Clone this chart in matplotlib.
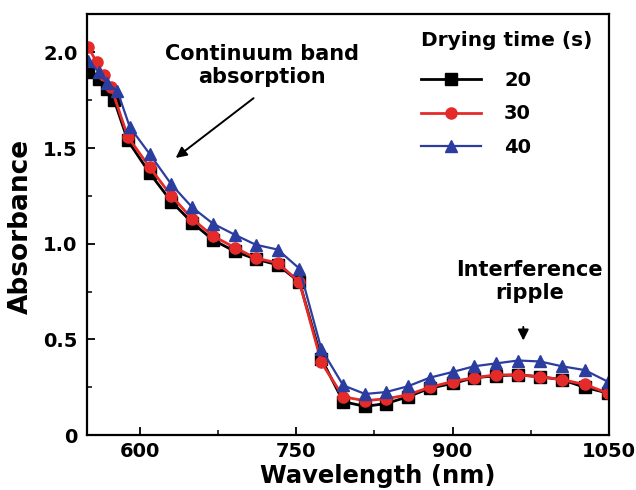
import matplotlib
matplotlib.use('Agg')
import matplotlib.pyplot as plt
from matplotlib.ticker import MultipleLocator, FixedLocator, FuncFormatter

plt.rcParams['font.family'] = ['DejaVu Sans']
plt.rcParams['font.weight'] = 'bold'

# comprimentos de onda (nm) e absorbancia
wl_20 = [550, 560, 568, 575, 588, 609, 630, 650, 670, 691, 711, 732, 753, 774,
         795, 816, 836, 857, 878, 900, 921, 942, 963, 984, 1005, 1027, 1049]
abs_20 = [1.90, 1.86, 1.81, 1.75, 1.54, 1.37, 1.22, 1.11, 1.02, 0.96, 0.92, 0.89, 0.80, 0.40,
          0.175, 0.15, 0.165, 0.20, 0.245, 0.27, 0.30, 0.31, 0.315, 0.305, 0.29, 0.25, 0.22]

wl_30 = [550, 558, 565, 572, 588, 609, 630, 650, 670, 691, 711, 732, 753, 774,
         795, 816, 836, 857, 878, 900, 921, 942, 963, 984, 1005, 1027, 1049]
abs_30 = [2.03, 1.95, 1.88, 1.82, 1.56, 1.40, 1.25, 1.13, 1.04, 0.98, 0.925, 0.90, 0.80, 0.38,
          0.20, 0.18, 0.19, 0.21, 0.25, 0.28, 0.30, 0.315, 0.315, 0.305, 0.29, 0.265, 0.22]

wl_40 = [550, 560, 568, 578, 590, 609, 630, 650, 670, 691, 711, 732, 753, 774,
         795, 816, 836, 857, 878, 900, 921, 942, 963, 984, 1005, 1027, 1049]
abs_40 = [1.955, 1.90, 1.84, 1.80, 1.61, 1.47, 1.31, 1.19, 1.105, 1.047, 0.995, 0.97, 0.87, 0.45,
          0.26, 0.215, 0.225, 0.255, 0.30, 0.33, 0.36, 0.375, 0.39, 0.385, 0.36, 0.34, 0.28]

series = [
    ('20', wl_20, abs_20, 'black', 's', 2.0),
    ('30', wl_30, abs_30, '#e52a2a', 'o', 2.0),
    ('40', wl_40, abs_40, '#2b3d9e', '^', 1.6),
]

fig = plt.figure(figsize=(6.36, 4.90), dpi=100)
ax = fig.add_axes([0.137, 0.112, 0.820, 0.859])

for nome, x, y, cor, mk, lw in series:
    ax.plot(x, y, color=cor, marker=mk, markersize=8, linewidth=lw, label=nome)

ax.set_xlim(549, 1050)
ax.set_ylim(0, 2.2)
ax.xaxis.set_major_locator(FixedLocator([600, 750, 900, 1050]))
ax.xaxis.set_minor_locator(FixedLocator([675, 825, 975]))
ax.yaxis.set_major_locator(MultipleLocator(0.5))
ax.yaxis.set_minor_locator(MultipleLocator(0.25))
ax.yaxis.set_major_formatter(FuncFormatter(lambda v, p: '0' if v == 0 else f'{v:.1f}'))
ax.tick_params(which='both', direction='in', top=False, right=False, labelsize=14)
ax.tick_params(axis='x', pad=5.3)
ax.tick_params(axis='y', pad=7)
ax.tick_params(which='major', length=6, width=1.3)
ax.tick_params(which='minor', length=3.5, width=1.1)
for s in ax.spines.values():
    s.set_linewidth(1.6)

ax.set_xlabel('Wavelength (nm)', fontsize=17.5, fontweight='bold', va='top')
ax.set_ylabel('Absorbance', fontsize=19, fontweight='bold')
ax.xaxis.set_label_coords(0.557, -0.068)
ax.yaxis.set_label_coords(-0.103, 0.495)

ax.text(717, 1.93, 'Continuum band\nabsorption', ha='center', va='center',
        fontsize=15, fontweight='bold', linespacing=1.2)
ax.annotate('', xy=(632, 1.44), xytext=(711, 1.77),
            arrowprops=dict(arrowstyle='-|>', color='black', lw=1.4, mutation_scale=16))

ax.text(974, 0.805, 'Interference\nripple', ha='center', va='center',
        fontsize=15, fontweight='bold', linespacing=1.2)
ax.annotate('', xy=(968, 0.48), xytext=(968, 0.58),
            arrowprops=dict(arrowstyle='-|>', color='black', lw=1.4, mutation_scale=16))

leg = ax.legend(title='Drying time (s)', loc='upper right', bbox_to_anchor=(1.0, 1.0),
                frameon=False, fontsize=14, title_fontsize=14.5, handlelength=3.1,
                handletextpad=1.2, labelspacing=0.75, borderaxespad=0.46,
                alignment='left')
leg.get_title().set_fontweight('bold')
for t in leg.get_texts():
    t.set_fontweight('bold')
# espaco extra entre o titulo e as entradas da legenda
leg._legend_box.sep += 4.5

fig.savefig('out.png', dpi=100)
